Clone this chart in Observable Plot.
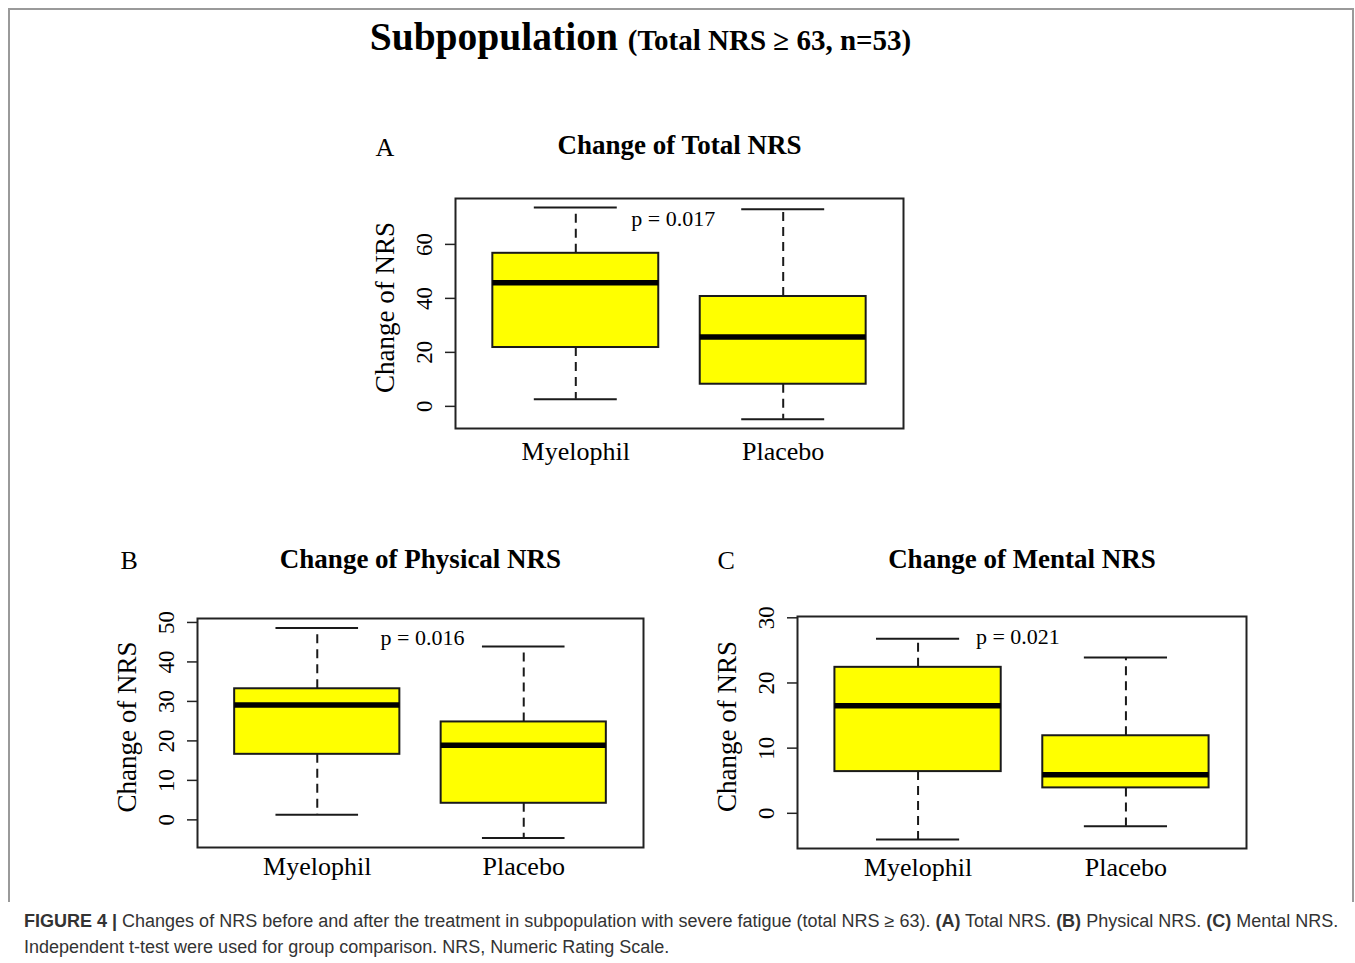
<!DOCTYPE html>
<html>
<head>
<meta charset="utf-8">
<script src="https://cdn.jsdelivr.net/npm/d3@7"></script>
<script src="https://cdn.jsdelivr.net/npm/@observablehq/plot@0.6"></script>
<style>
  html, body { margin: 0; padding: 0; background: #fff; }
  #page { position: relative; width: 1355px; height: 963px; overflow: hidden; background: #fff; }
  #border { position: absolute; left: 8px; top: 8px; width: 1342px; height: 892px;
            border-top: 2px solid #9a9a9a; border-left: 2px solid #9a9a9a; border-right: 2px solid #9a9a9a; }
  #title { position: absolute; left: 0; top: 18px; width: 1281px; text-align: center;
           font-family: "Liberation Serif", "Times New Roman", serif; font-weight: bold;
           font-size: 39.5px; line-height: 39px; color: #000; white-space: nowrap; }
  #title .sub { font-size: 29px; }
  #caption { position: absolute; left: 24px; top: 909px; width: 1325px;
             font-family: "Liberation Sans", Arial, sans-serif; font-size: 18px; line-height: 25.5px;
             color: #333; white-space: nowrap; }
  .panel { position: absolute; }
</style>
</head>
<body>
<div id="page">
  <div id="border"></div>
  <div id="title">Subpopulation <span class="sub">(Total NRS ≥ 63, n=53)</span></div>
  <div id="panelA" class="panel" style="left:355px; top:120px;"></div>
  <div id="panelB" class="panel" style="left:97px; top:520px;"></div>
  <div id="panelC" class="panel" style="left:697px; top:520px;"></div>
  <div id="caption"><b>FIGURE 4 |</b> Changes of NRS before and after the treatment in subpopulation with severe fatigue (total NRS ≥ 63). <b>(A)</b> Total NRS. <b>(B)</b> Physical NRS. <b>(C)</b> Mental NRS.<br>Independent t-test were used for group comparison. NRS, Numeric Rating Scale.</div>
</div>
<script>
// ---- Data ----
const groups = ["Myelophil", "Placebo"];

// Panel A: Change of Total NRS
const totalLow  = [2.6, -4.8];
const totalQ1   = [21.8, 8.2];
const totalMed  = [45.8, 25.7];
const totalQ3   = [56.7, 40.7];
const totalHigh = [73.7, 73.0];
const totalTicks = [0, 20, 40, 60];
const totalDomain = [-8.2, 77.0];
const totalP = "p = 0.017";
const totalPX = 1.47;
const totalPY = 69.5;

// Panel B: Change of Physical NRS
const physLow  = [1.3, -4.6];
const physQ1   = [16.6, 4.2];
const physMed  = [29.1, 18.9];
const physQ3   = [33.2, 24.8];
const physHigh = [48.6, 43.9];
const physTicks = [0, 10, 20, 30, 40, 50];
const physDomain = [-7.0, 51.0];
const physP = "p = 0.016";
const physPX = 1.51;
const physPY = 46;

// Panel C: Change of Mental NRS
const mentLow  = [-4.0, -2.0];
const mentQ1   = [6.4, 3.9];
const mentMed  = [16.5, 5.9];
const mentQ3   = [22.4, 11.9];
const mentHigh = [26.8, 23.9];
const mentTicks = [0, 10, 20, 30];
const mentDomain = [-5.4, 30.2];
const mentP = "p = 0.021";
const mentPX = 1.48;
const mentPY = 27;

const yLabel = "Change of NRS";

function makePanel({letter, title, low, q1, med, q3, high, ticks, yDomain, pText, pX, pY,
                    width, height, marginTop, marginBottom, marginLeft, marginRight,
                    titleDy, letterDx, letterDy, xPad}) {
  const rows = groups.map((g, k) => ({i: k + 1, group: g, low: low[k], q1: q1[k], med: med[k], q3: q3[k], high: high[k]}));
  const n = groups.length;
  const xDomain = [0.5 - 0.04 * n, n + 0.5 + 0.04 * n];
  const idx = rows.map(d => d.i);
  const boxHalf = 0.4, capHalf = 0.2;
  const ink = "#1a1a1a";
  return Plot.plot({
    width, height, marginTop, marginBottom, marginLeft, marginRight,
    style: {fontFamily: "Liberation Serif, 'Times New Roman', serif", fontSize: "22px", background: "transparent", overflow: "visible", color: "#000"},
    x: {domain: xDomain, axis: null},
    y: {domain: yDomain, axis: null},
    marks: [
      Plot.ruleX(rows, {x: "i", y1: "q3", y2: "high", stroke: ink, strokeWidth: 2, strokeDasharray: "9,6"}),
      Plot.ruleX(rows, {x: "i", y1: "q1", y2: "low", stroke: ink, strokeWidth: 2, strokeDasharray: "9,6"}),
      Plot.ruleY(rows, {y: "high", x1: d => d.i - capHalf, x2: d => d.i + capHalf, stroke: ink, strokeWidth: 2}),
      Plot.ruleY(rows, {y: "low", x1: d => d.i - capHalf, x2: d => d.i + capHalf, stroke: ink, strokeWidth: 2}),
      Plot.rect(rows, {x1: d => d.i - boxHalf, x2: d => d.i + boxHalf, y1: "q1", y2: "q3", fill: "#ffff00", stroke: ink, strokeWidth: 2}),
      Plot.ruleY(rows, {y: "med", x1: d => d.i - boxHalf, x2: d => d.i + boxHalf, stroke: "#000", strokeWidth: 5.5}),
      Plot.frame({stroke: "#222", strokeWidth: 2}),
      Plot.axisY(ticks, {tickSize: 10, tickPadding: 14, tickRotate: -90, fontSize: 23, label: null, stroke: "#222", strokeWidth: 1.5}),
      Plot.axisX(idx, {tickFormat: i => groups[i - 1], tickSize: 0, tickPadding: xPad, fontSize: 26, label: null}),
      Plot.text([yLabel], {frameAnchor: "left", dx: -70, dy: -6, rotate: -90, fontSize: 27, textAnchor: "middle", lineAnchor: "middle"}),
      Plot.text([pText], {x: pX, y: pY, fontSize: 22, textAnchor: "middle", lineAnchor: "middle"}),
      Plot.text([title], {frameAnchor: "top", dy: titleDy, fontSize: 27, fontWeight: "bold", lineAnchor: "bottom"}),
      Plot.text([letter], {frameAnchor: "top-left", dx: letterDx, dy: letterDy, fontSize: 26, textAnchor: "start", lineAnchor: "bottom"})
    ]
  });
}

document.getElementById("panelA").appendChild(makePanel({
  letter: "A", title: "Change of Total NRS",
  low: totalLow, q1: totalQ1, med: totalMed, q3: totalQ3, high: totalHigh, ticks: totalTicks, yDomain: totalDomain,
  pText: totalP, pX: totalPX, pY: totalPY,
  width: 560, height: 350, marginTop: 78, marginBottom: 42, marginLeft: 100, marginRight: 12,
  titleDy: -45, letterDx: -80, letterDy: -43, xPad: 13
}));
document.getElementById("panelB").appendChild(makePanel({
  letter: "B", title: "Change of Physical NRS",
  low: physLow, q1: physQ1, med: physMed, q3: physQ3, high: physHigh, ticks: physTicks, yDomain: physDomain,
  pText: physP, pX: physPX, pY: physPY,
  width: 558, height: 370, marginTop: 98, marginBottom: 43, marginLeft: 100, marginRight: 12,
  titleDy: -51, letterDx: -77, letterDy: -50, xPad: 9
}));
document.getElementById("panelC").appendChild(makePanel({
  letter: "C", title: "Change of Mental NRS",
  low: mentLow, q1: mentQ1, med: mentMed, q3: mentQ3, high: mentHigh, ticks: mentTicks, yDomain: mentDomain,
  pText: mentP, pX: mentPX, pY: mentPY,
  width: 561, height: 370, marginTop: 96, marginBottom: 42, marginLeft: 100, marginRight: 12,
  titleDy: -49, letterDx: -80, letterDy: -48, xPad: 9
}));
</script>
</body>
</html>
